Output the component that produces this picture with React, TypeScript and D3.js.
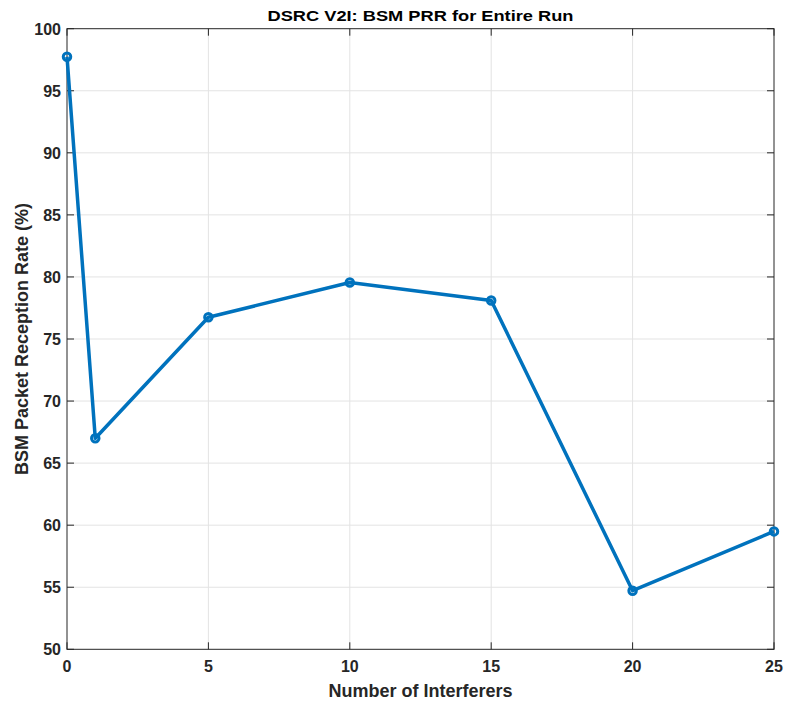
import React from "react";
import * as d3 from "d3";

const interferers = [0, 1, 5, 10, 15, 20, 25];
const prr = [97.74, 67.0, 76.75, 79.55, 78.1, 54.72, 59.5];
const xTicks = [0, 5, 10, 15, 20, 25];
const yTicks = [50, 55, 60, 65, 70, 75, 80, 85, 90, 95, 100];

const W = 787;
const H = 704;
const margin = { left: 67, right: 13, top: 28.7, bottom: 54.7 };
const BLUE = "#0072BD";
const FONT = "'Liberation Sans', Arial, sans-serif";

export default function App() {
  const x = d3.scaleLinear().domain([0, 25]).range([margin.left, W - margin.right]);
  const y = d3.scaleLinear().domain([50, 100]).range([H - margin.bottom, margin.top]);
  const line = d3
    .line<number>()
    .x((_, i) => x(interferers[i]))
    .y((d) => y(d));
  const [x0, x1] = x.range();
  const [y0, y1] = y.range();
  const tick = 7;

  return (
    <svg
      width={W}
      height={H}
      style={{ position: "absolute", left: 0, top: 0, background: "#fff" }}
      fontFamily={FONT}
    >
      {/* grid */}
      <g stroke="#e3e3e3" strokeWidth={1}>
        {xTicks.slice(1, -1).map((t) => (
          <line key={"gx" + t} x1={x(t)} x2={x(t)} y1={y1} y2={y0} />
        ))}
        {yTicks.slice(1, -1).map((t) => (
          <line key={"gy" + t} x1={x0} x2={x1} y1={y(t)} y2={y(t)} />
        ))}
      </g>
      {/* box */}
      <rect x={x0} y={y1} width={x1 - x0} height={y0 - y1} fill="none" stroke="#262626" strokeWidth={1} />
      {/* ticks */}
      <g stroke="#262626" strokeWidth={1}>
        {xTicks.map((t) => (
          <g key={"tx" + t}>
            <line x1={x(t)} x2={x(t)} y1={y0} y2={y0 - tick} />
            <line x1={x(t)} x2={x(t)} y1={y1} y2={y1 + tick} />
          </g>
        ))}
        {yTicks.map((t) => (
          <g key={"ty" + t}>
            <line x1={x0} x2={x0 + tick} y1={y(t)} y2={y(t)} />
            <line x1={x1} x2={x1 - tick} y1={y(t)} y2={y(t)} />
          </g>
        ))}
      </g>
      {/* tick labels */}
      <g fill="#262626" fontWeight="bold" fontSize={16}>
        {xTicks.map((t) => (
          <text key={"lx" + t} x={x(t)} y={y0 + 22.5} textAnchor="middle">
            {t}
          </text>
        ))}
        {yTicks.map((t) => (
          <text key={"ly" + t} x={x0 - 6} y={y(t) + 6} textAnchor="end">
            {t}
          </text>
        ))}
      </g>
      {/* data */}
      <path d={line(prr) ?? ""} fill="none" stroke={BLUE} strokeWidth={3.5} strokeLinejoin="round" />
      {prr.map((v, i) => (
        <circle key={"m" + i} cx={x(interferers[i])} cy={y(v)} r={3.75} fill="none" stroke={BLUE} strokeWidth={3} />
      ))}
      {/* labels */}
      <text
        x={(x0 + x1) / 2}
        y={21}
        textAnchor="middle"
        fontWeight="bold"
        fontSize={15.5}
        textLength={306}
        lengthAdjust="spacingAndGlyphs"
        fill="#000"
      >
        DSRC V2I: BSM PRR for Entire Run
      </text>
      <text x={(x0 + x1) / 2} y={697} textAnchor="middle" fontWeight="bold" fontSize={18} fill="#262626">
        Number of Interferers
      </text>
      <text
        transform={`translate(28, ${(y0 + y1) / 2}) rotate(-90)`}
        textAnchor="middle"
        fontWeight="bold"
        fontSize={18}
        fill="#262626"
      >
        BSM Packet Reception Rate (%)
      </text>
    </svg>
  );
}
